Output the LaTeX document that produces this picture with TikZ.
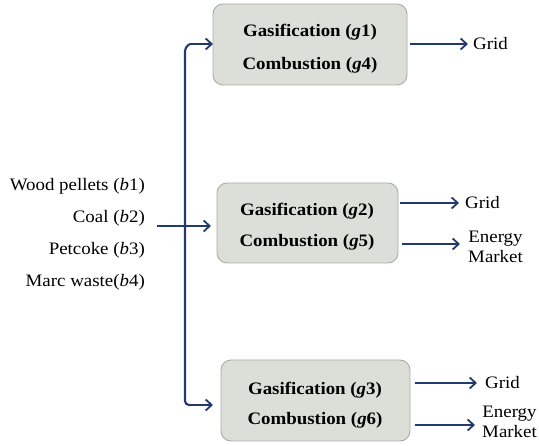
\documentclass[tikz,border=0pt]{standalone}
\usepackage{fontspec}
\setmainfont[FakeStretch=1.08]{Liberation Serif}
\usetikzlibrary{arrows.meta}
\definecolor{flow}{HTML}{22396F}
\definecolor{boxfill}{HTML}{DCDFD7}
\definecolor{boxline}{HTML}{A9ABA5}
\tikzset{
  x=1pt, y=-1pt,
  plant/.style={draw=boxline, line width=0.9pt, fill=boxfill, rounded corners=10pt},
  plantlabel/.style={font=\fontsize{17.5}{20}\selectfont\bfseries, anchor=center, inner sep=0pt},
  feedlabel/.style={font=\fontsize{17.5}{20}\selectfont, anchor=east, inner sep=0pt},
  outlabel/.style={font=\fontsize{17.5}{20}\selectfont, anchor=west, inner sep=0pt},
  mktlabel/.style={font=\fontsize{17.5}{20}\selectfont, anchor=west, inner sep=0pt, align=center},
  flowline/.style={draw=flow, line width=2.1pt, -{Straight Barb[length=6pt,width=11pt,line width=1.8pt]}},
  trunk/.style={draw=flow, line width=2.1pt, rounded corners=4pt},
}
\begin{document}
\begin{tikzpicture}
\useasboundingbox (0,0) rectangle (539,446);

% plant boxes
\draw[plant] (213,4) rectangle (407,85);
\draw[plant] (217,183) rectangle (398,263);
\draw[plant] (221,360) rectangle (410,441);
\coordinate (b1w) at (213,44);
\coordinate (b2w) at (217,226);
\coordinate (b3w) at (221,405);

\node[plantlabel] (g1) at (310,32) {Gasification (\textit{g}1)};
\node[plantlabel] (g4) at (310,65) {Combustion (\textit{g}4)};
\node[plantlabel] (g2) at (307,211) {Gasification (\textit{g}2)};
\node[plantlabel] (g5) at (307,242) {Combustion (\textit{g}5)};
\node[plantlabel] (g3) at (315,390) {Gasification (\textit{g}3)};
\node[plantlabel] (g6) at (315,420) {Combustion (\textit{g}6)};

% feedstocks
\node[feedlabel] (f1) at (145,186) {Wood pellets (\textit{b}1)};
\node[feedlabel] (f2) at (145,218) {Coal (\textit{b}2)};
\node[feedlabel] (f3) at (145,250) {Petcoke (\textit{b}3)};
\node[feedlabel] (f4) at (145,282) {Marc waste(\textit{b}4)};

% outputs
\node[outlabel] (o1) at (473,44) {Grid};
\node[outlabel] (o2) at (465,203) {Grid};
\node[mktlabel] (o3) at (468,247) {Energy\\Market};
\node[outlabel] (o4) at (485,383) {Grid};
\node[mktlabel] (o5) at (482,422) {Energy\\Market};

% distribution trunk
\coordinate (feed) at (157,226);
\coordinate (hub) at (185,226);
\draw[draw=flow, line width=2.1pt] (feed) -- (hub);
\draw[trunk] (hub) -- (185,47) -- (190,44);
\draw[trunk] (hub) -- (185,405) -- (190,405);
\draw[flowline] (190,44) -- (b1w);
\draw[flowline] (hub) -- ([xshift=-6pt]b2w);
\draw[flowline] (190,405) -- ([xshift=-8pt]b3w);

% outgoing flows
\draw[flowline] (410,44) -- ([xshift=-5pt]o1.west);
\draw[flowline] (400,203) -- ([xshift=-6pt]o2.west);
\draw[flowline] (402,244) -- (460,244);
\draw[flowline] (415,383) -- ([xshift=-8pt]o4.west);
\draw[flowline] (415,425) -- (475,425);
\end{tikzpicture}
\end{document}
